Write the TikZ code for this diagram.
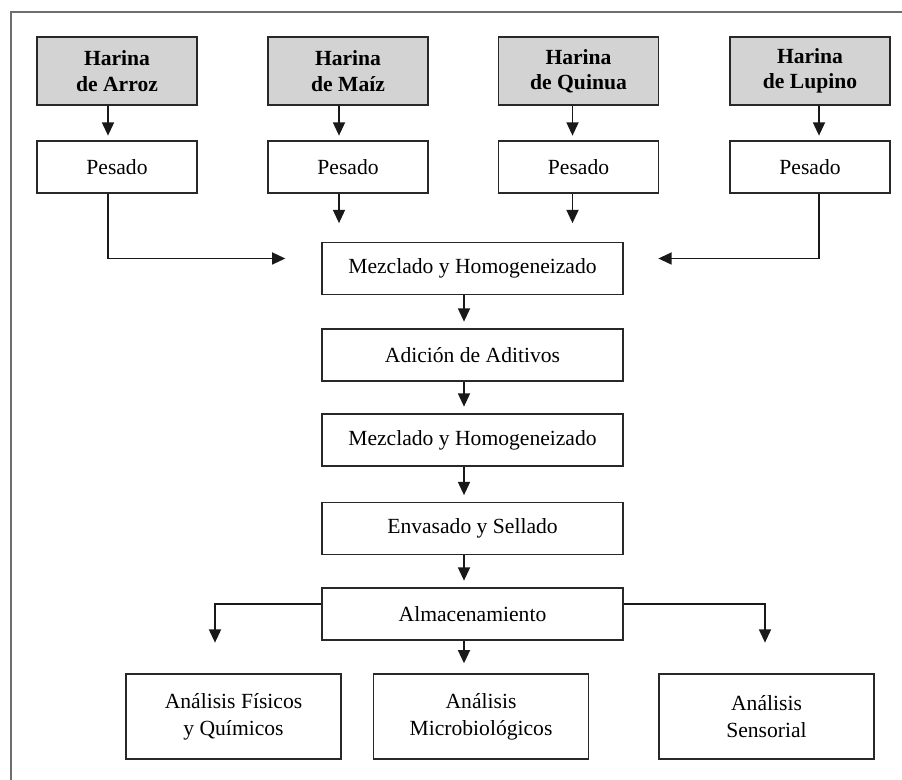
\documentclass[tikz,border=0pt]{standalone}
\usepackage{fontspec}
\setmainfont{Liberation Serif}
\usetikzlibrary{arrows.meta,calc}

\definecolor{grisfondo}{RGB}{211,211,211}
\definecolor{grisborde}{RGB}{40,40,40}
\definecolor{grismarco}{RGB}{110,110,110}

\tikzset{
  caja/.style={draw=grisborde,line width=1pt,fill=white,inner sep=0pt,align=center,
    font=\fontsize{16.2}{20}\selectfont},
  harina/.style={caja,fill=grisfondo,minimum width=120pt,minimum height=51pt,
    font=\fontsize{16.2}{19}\selectfont\bfseries},
  pesado/.style={caja,minimum width=120pt,minimum height=39pt},
  proceso/.style={caja,minimum width=225.75pt,minimum height=39pt},
  analisis/.style={caja,minimum width=161.25pt,minimum height=63.75pt},
  flecha/.style={draw=black!90,line width=1.35pt,-{Triangle[length=10pt,width=9pt]}},
}

\begin{document}
\begin{tikzpicture}[x=0.75pt,y=0.75pt,yscale=-1,xscale=1]
		\useasboundingbox (0,0) rectangle (902,780);
		\draw [grismarco,line width=1.2pt] (11,12) rectangle (910,790);
		% harinas
		\node [harina] (ha) at (117,71) {Harina\\de Arroz};
		\node [harina] (hm) at (348,71) {Harina\\de Maíz};
		\node [harina] (hq) at (578.5,71) {Harina\\de Quinua};
		\node [harina] (hl) at (810,71) {Harina\\de Lupino};
		% pesado
		\node [pesado] (pa) at (117,167) {Pesado};
		\node [pesado] (pm) at (348,167) {Pesado};
		\node [pesado] (pq) at (578.5,167) {Pesado};
		\node [pesado] (pl) at (810,167) {Pesado};
		% linea central
		\node [proceso] (m1) at (472.5,268.5) {Mezclado y Homogeneizado};
		\node [proceso] (ad) at (472.5,355) {Adición de Aditivos};
		\node [proceso] (m2) at (472.5,440) {Mezclado y Homogeneizado};
		\node [proceso] (en) at (472.5,528.5) {Envasado y Sellado};
		\node [proceso] (al) at (472.5,614) {Almacenamiento};
		% analisis
		\node [analisis] (af) at (233.5,716.5) {Análisis Físicos\\y Químicos};
		\node [analisis] (mi) at (481,716.5) {Análisis\\Microbiológicos};
		\node [analisis] (se) at (766.5,716.5) {Análisis\\Sensorial};
		% flechas
		\draw [flecha,shorten >=3.5pt] ($(ha.south)+(-9,0)$) -- ($(pa.north)+(-9,0)$);
		\draw [flecha,shorten >=3.5pt] ($(hm.south)+(-9,0)$) -- ($(pm.north)+(-9,0)$);
		\draw [flecha,shorten >=3.5pt] ($(hq.south)+(-6,0)$) -- ($(pq.north)+(-6,0)$);
		\draw [flecha,shorten >=3.5pt] ($(hl.south)+(9,0)$) -- ($(pl.north)+(9,0)$);
		\draw [flecha,shorten >=14pt] ($(pm.south)+(-9,0)$) -- ($(pm.south |- m1.north)+(-9,0)$);
		\draw [flecha,shorten >=14pt] ($(pq.south)+(-6,0)$) -- ($(pq.south |- m1.north)+(-6,0)$);
		\draw [flecha,shorten >=27pt] ($(pa.south)+(-9,0)$) |- ($(m1.west)+(0,-10)$);
		\draw [flecha,shorten >=26pt] ($(pl.south)+(9,0)$) |- ($(m1.east)+(0,-10)$);
		\draw [flecha,shorten >=5pt] ($(m1.south)+(-8.5,0)$) -- ($(ad.north)+(-8.5,0)$);
		\draw [flecha,shorten >=5pt] ($(ad.south)+(-8.5,0)$) -- ($(m2.north)+(-8.5,0)$);
		\draw [flecha,shorten >=5pt] ($(m2.south)+(-8.5,0)$) -- ($(en.north)+(-8.5,0)$);
		\draw [flecha,shorten >=5pt] ($(en.south)+(-8.5,0)$) -- ($(al.north)+(-8.5,0)$);
		\coordinate (ca) at ($(al.south)+(-8.5,0)$);
		\draw [flecha,shorten >=7.5pt] (ca) -- (ca |- mi.north);
		\draw [flecha,shorten >=23pt] ($(al.west)+(0,-10)$) -| ($(af.north)+(-18.5,0)$);
		\draw [flecha,shorten >=23pt] ($(al.east)+(0,-10)$) -| ($(se.north)+(-1.5,0)$);
\end{tikzpicture}
\end{document}
